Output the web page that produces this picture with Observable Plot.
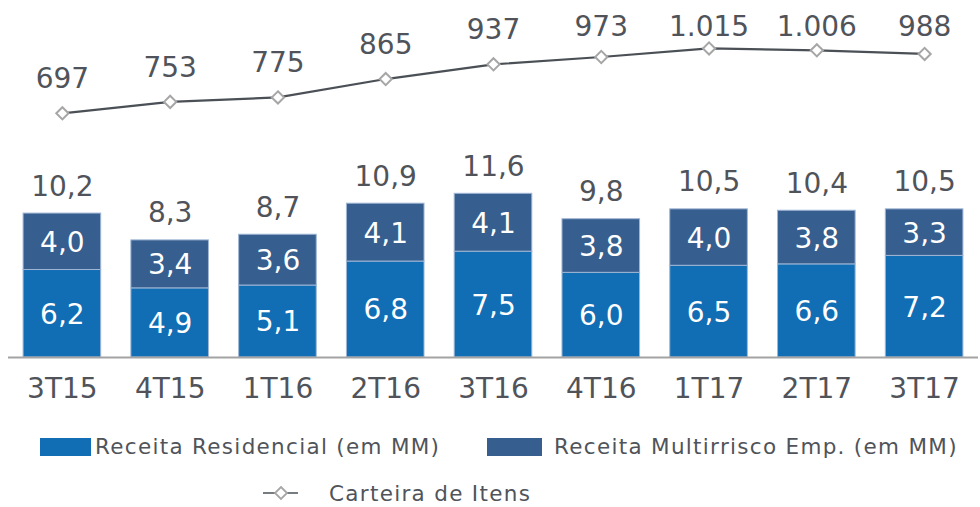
<!DOCTYPE html>
<html>
<head>
<meta charset="utf-8">
<script src="https://cdn.jsdelivr.net/npm/d3@7"></script>
<script src="https://cdn.jsdelivr.net/npm/@observablehq/plot@0.6"></script>
<style>
  body { margin: 0; background: #fff; font-family: "DejaVu Sans", sans-serif; }
  #wrap { position: relative; width: 980px; height: 507px; }
  .leg { position: absolute; color: #50545a; font-size: 21.5px; letter-spacing: 1.3px; white-space: nowrap; line-height: 24px; }
  .sw { position: absolute; }
</style>
</head>
<body>
<div id="wrap">
  <div id="chart"></div>
</div>
<script>
const quarters = ["3T15", "4T15", "1T16", "2T16", "3T16", "4T16", "1T17", "2T17", "3T17"];
const residencial = [6.2, 4.9, 5.1, 6.8, 7.5, 6.0, 6.5, 6.6, 7.2];
const multirrisco = [4.0, 3.4, 3.6, 4.1, 4.1, 3.8, 4.0, 3.8, 3.3];
const carteira = [697, 753, 775, 865, 937, 973, 1015, 1006, 988];
const seriesNames = ["Receita Residencial (em MM)", "Receita Multirrisco Emp. (em MM)"];
const legendLine = "Carteira de Itens";
const colors = ["#116EB5", "#365E8F"];

const textColor = "#50545a";
const dec = v => v.toFixed(1).replace(".", ",");
const thousands = d3.formatLocale({decimal: ",", thousands: ".", grouping: [3], currency: ["", ""]}).format(",d");

// Secondary axis for the line: maps item counts into the bar value units
const yDomain = [0, 25.3];
const itemsAxis = d3.scaleLinear().domain([-500, 1250]).range(yDomain);
const labelCap = 951; // labels cannot rise above this level

const bars = [];
quarters.forEach((q, i) => {
  bars.push({q, series: seriesNames[0], value: residencial[i], mid: residencial[i] / 2});
  bars.push({q, series: seriesNames[1], value: multirrisco[i], mid: residencial[i] + multirrisco[i] / 2});
});
const totals = quarters.map((q, i) => ({q, total: residencial[i] + multirrisco[i]}));
const line = quarters.map((q, i) => ({q, v: carteira[i], y: itemsAxis(carteira[i]), ly: itemsAxis(Math.min(carteira[i], labelCap))}));

const chart = Plot.plot({
  width: 980,
  height: 410,
  marginLeft: 8,
  marginRight: 2,
  marginTop: 0,
  marginBottom: 53,
  style: {fontFamily: "DejaVu Sans, sans-serif", background: "white"},
  x: {type: "band", domain: quarters, paddingInner: 0.28, paddingOuter: 0.14, round: false},
  y: {domain: yDomain, axis: null},
  color: {domain: seriesNames, range: colors},
  marks: [
    Plot.barY(bars, Plot.stackY({x: "q", y: "value", fill: "series", z: "series", order: seriesNames, stroke: "#9FB6D4", strokeWidth: 1})),
    Plot.ruleY([0], {stroke: "#A3A3A3", strokeWidth: 2}),
    Plot.text(bars, {x: "q", y: "mid", text: d => dec(d.value), fill: "white", fontSize: 28, dy: 1}),
    Plot.text(totals, {x: "q", y: "total", text: d => dec(d.total), fill: textColor, fontSize: 28, lineAnchor: "bottom", dy: -18}),
    Plot.line(line, {x: "q", y: "y", stroke: "#4A5056", strokeWidth: 2.2}),
    Plot.dot(line, {x: "q", y: "y", symbol: "diamond2", r: 5.5, fill: "white", stroke: "#A6A6A6", strokeWidth: 2}),
    Plot.text(line, {x: "q", y: "ly", text: d => thousands(d.v), fill: textColor, fontSize: 28, lineAnchor: "bottom", dy: -25}),
    Plot.axisX({tickSize: 0, tickPadding: 21, fontSize: 28, color: textColor, label: null})
  ]
});
document.getElementById("chart").appendChild(chart);

// Legend (HTML, below the SVG)
const wrap = document.getElementById("wrap");
function addSwatch(left, top, w, h, color) {
  const d = document.createElement("div");
  d.className = "sw";
  Object.assign(d.style, {left: left + "px", top: top + "px", width: w + "px", height: h + "px", background: color});
  wrap.appendChild(d);
}
function addText(left, centerY, txt) {
  const d = document.createElement("div");
  d.className = "leg";
  d.textContent = txt;
  d.style.left = left + "px";
  d.style.top = (centerY - 12) + "px";
  wrap.appendChild(d);
}
addSwatch(40, 438, 51, 18, colors[0]);
addText(95, 447, seriesNames[0]);
addSwatch(487, 438, 55, 18, colors[1]);
addText(554, 447, seriesNames[1]);

// line legend symbol
const ns = "http://www.w3.org/2000/svg";
const sym = document.createElementNS(ns, "svg");
sym.setAttribute("width", 40); sym.setAttribute("height", 20);
sym.style.position = "absolute"; sym.style.left = "261px"; sym.style.top = "483px";
sym.innerHTML = '<line x1="2" y1="10" x2="37" y2="10" stroke="#4A5056" stroke-width="1.5"/>' +
  '<path d="M20,4 L26,10 L20,16 L14,10 Z" fill="white" stroke="#A6A6A6" stroke-width="1.8"/>';
wrap.appendChild(sym);
addText(329, 494, legendLine);
</script>
</body>
</html>
